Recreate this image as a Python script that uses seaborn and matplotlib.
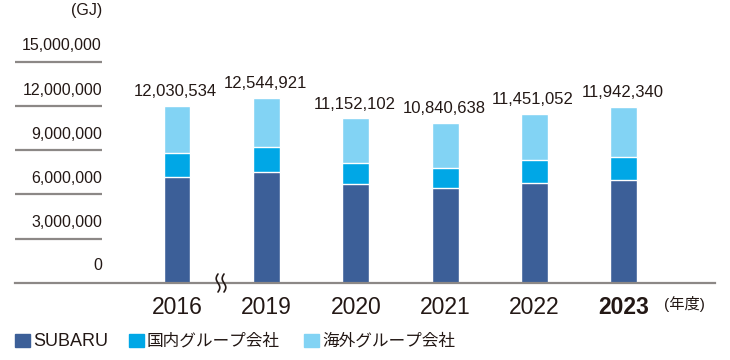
import numpy as np
import pandas as pd
import matplotlib
matplotlib.use('Agg')
import matplotlib.pyplot as plt
from matplotlib import font_manager
from matplotlib.patches import Rectangle
from matplotlib.lines import Line2D
import seaborn as sns

years = ['2016', '2019', '2020', '2021', '2022', '2023']
totals = [12030534, 12544921, 11152102, 10840638, 11451052, 11942340]
subaru = [7160000, 7500000, 6710000, 6470000, 6780000, 6980000]
domestic = [1620000, 1710000, 1440000, 1320000, 1580000, 1530000]
overseas = [3250000, 3330000, 3000000, 3050000, 3090000, 3430000]
yticks = [3000000, 6000000, 9000000, 12000000, 15000000]
legend_labels = ['SUBARU', '国内グループ会社', '海外グループ会社']

c_subaru = '#3c5f98'
c_dom = '#00a7e6'
c_over = '#82d3f4'
c_text = '#231815'
c_axis = '#8c8886'

sns.set_style('white')
plt.rcParams['font.family'] = ['Liberation Sans', 'Noto Sans CJK JP', 'DejaVu Sans']

names = {f.name for f in font_manager.fontManager.ttflist}
if 'Liberation Sans Narrow' in names:
    num_font = ['Liberation Sans Narrow']
    val_size, tick_size = 13, 13
else:
    num_font = ['Liberation Sans']
    val_size, tick_size = 12, 11.5

df = pd.DataFrame({'year': years, 'subaru': subaru, 'domestic': domestic, 'overseas': overseas})
df['lvl2'] = df['subaru'] + df['domestic']
df['lvl3'] = df['lvl2'] + df['overseas']

W, H = 730, 360
fig = plt.figure(figsize=(W / 100, H / 100), dpi=100)
ax = fig.add_axes([15 / W, (H - 283) / H, 700 / W, (283 - 40) / H])

sns.barplot(data=df, x='year', y='lvl3', color=c_over, width=0.3, saturation=1, ax=ax)
sns.barplot(data=df, x='year', y='lvl2', color=c_dom, width=0.3, saturation=1, ax=ax)
sns.barplot(data=df, x='year', y='subaru', color=c_subaru, width=0.3, saturation=1, ax=ax)

ax.set_xlim(-1.814, 6.02)
ax.set_ylim(0, 16470000)
ax.set_xlabel('')
ax.set_ylabel('')
for s in ['top', 'right', 'left']:
    ax.spines[s].set_visible(False)
ax.spines['bottom'].set_color(c_axis)
ax.spines['bottom'].set_linewidth(1.6)
ax.set_yticks([])
ax.tick_params(axis='x', length=0, pad=9, labelsize=16.5, labelcolor=c_text)
for lab in ax.get_xticklabels():
    if lab.get_text() == '2023':
        lab.set_fontweight('bold')

# totals above bars
for i, t in enumerate(totals):
    ax.annotate(f'{t:,}', xy=(i, df['lvl3'][i]), xytext=(-1, 5), textcoords='offset points',
                ha='center', va='bottom', fontsize=val_size, color=c_text, family=num_font)

# y scale labels with short rules
ytr = ax.get_yaxis_transform()
ax.hlines(yticks, 0, 87 / 700, transform=ytr, color=c_axis, lw=1.6, clip_on=False)
ax.annotate('0', xy=(87 / 700, 0), xycoords=ytr, xytext=(0, 7), textcoords='offset points',
            ha='right', va='bottom', fontsize=tick_size, color=c_text, family=num_font)
for v in yticks:
    ax.annotate(f'{v:,}', xy=(87 / 700, v), xycoords=ytr, xytext=(0, 6), textcoords='offset points',
                ha='right', va='bottom', fontsize=tick_size, color=c_text, family=num_font)

fig.text(102 / W, 1 - 11 / H, '(GJ)', ha='right', va='center', fontsize=11.5, color=c_text)
fig.text(664 / W, 1 - 304 / H, '(年度)', ha='left', va='center', fontsize=11, color=c_text,
         family=['Liberation Sans', 'Noto Sans CJK JP'])

# axis break marks
t = np.linspace(-1, 1, 30)
for dx in (-3, 3):
    xs = (221 + dx + 1.8 * np.sin(t * np.pi)) / W
    ys = 1 - (283 + 9 * t) / H
    fig.add_artist(Line2D(xs, ys, color=c_text, lw=1.2, transform=fig.transFigure))

# legend
leg_x = [15, 129, 304]
leg_size = [13, 12, 12]
for x0, lab, c, fs in zip(leg_x, legend_labels, [c_subaru, c_dom, c_over], leg_size):
    fig.add_artist(Rectangle((x0 / W, 1 - 347 / H), 15 / W, 13 / H, color=c,
                             transform=fig.transFigure))
    fig.text((x0 + 18) / W, 1 - 341 / H, lab, ha='left', va='center', fontsize=fs,
             color=c_text, family=['Liberation Sans', 'Noto Sans CJK JP'])

fig.savefig('out.png', dpi=100)
